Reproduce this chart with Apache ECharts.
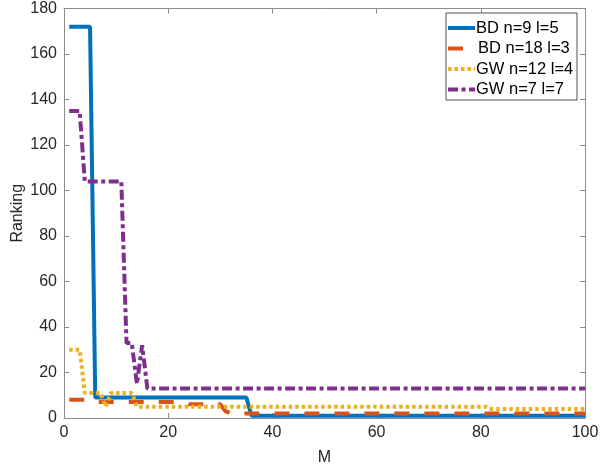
<!DOCTYPE html>
<html>
<head>
<meta charset="utf-8">
<script src="https://cdn.jsdelivr.net/npm/echarts@6/dist/echarts.min.js"></script>
<style>
html,body{margin:0;padding:0;background:#fff;}
#chart{width:609px;height:466px;}
</style>
</head>
<body>
<div id="chart"></div>
<script>
// Series names
const seriesNames = ['BD n=9 l=5', 'BD n=18 l=3', 'GW n=12 l=4', 'GW n=7 l=7'];
// Breakpoints (M, Ranking)
const bd9_M   = [1, 5, 6, 35, 36, 100];
const bd9_R   = [172, 172, 9, 9, 1, 1];
const bd18_M  = [1, 5, 6, 23, 24, 30, 31, 32, 100];
const bd18_R  = [8, 8, 7, 7, 6, 6, 3, 2, 2];
const gw12_M  = [1, 3, 4, 7, 8, 9, 13, 14, 81, 82, 100];
const gw12_R  = [30, 30, 11, 11, 5, 11, 11, 5, 5, 4, 4];
const gw7_M   = [1, 3, 4, 11, 12, 13, 14, 15, 16, 100];
const gw7_R   = [135, 135, 104, 104, 33, 33, 15, 32, 13, 13];
// Axis ticks
const xTicks = [0, 20, 40, 60, 80, 100];
const yTicks = [0, 20, 40, 60, 80, 100, 120, 140, 160, 180];

function pairs(xs, ys) { return xs.map((x, i) => [x, ys[i]]); }

const FONT = "'Liberation Sans', Arial, Helvetica, sans-serif";
const TXT = '#262626';
const AX = '#8c8c8c';

const colors = ['#0072BD', '#D95319', '#EDB120', '#7E2F8E'];
const dashes = [null, [15, 15], [3.5, 3], [10, 3.5, 4, 3.5]];

const chart = echarts.init(document.getElementById('chart'), null, {renderer: 'canvas'});

const baseAxis = {
  min: 0,
  axisLine: {show: true, onZero: false, lineStyle: {color: AX, width: 1}},
  axisTick: {show: true, inside: true, length: 5, lineStyle: {color: AX}},
  splitLine: {show: false},
  axisLabel: {color: TXT, fontSize: 16, fontFamily: FONT}
};

// Legend drawn as graphic (box + line samples + labels)
const legendBox = {x: 446, y: 13, w: 131, h: 87};
const legendRowsY = [28, 48.5, 69, 89.5];
const legendGraphic = [{
  type: 'rect', shape: {x: legendBox.x, y: legendBox.y, width: legendBox.w, height: legendBox.h},
  style: {fill: '#fff', stroke: '#262626', lineWidth: 0.8}, z: 100
}];
seriesNames.forEach((name, i) => {
  const y = legendRowsY[i];
  const x2 = i === 1 ? 463 : 475;
  legendGraphic.push({
    type: 'line', shape: {x1: 448, y1: y, x2: x2, y2: y},
    style: {stroke: colors[i], lineWidth: 4, lineDash: (i === 1 ? null : dashes[i])}, z: 101
  });
  legendGraphic.push({
    type: 'text', x: i === 1 ? 478 : 476, y: y,
    style: {text: name, fill: '#000', font: '16.5px ' + FONT, textVerticalAlign: 'middle', verticalAlign: 'middle'},
    z: 101
  });
});

chart.setOption({
  animation: false,
  backgroundColor: '#fff',
  grid: {left: 64, right: 24, top: 8.5, bottom: 48, containLabel: false, outerBoundsMode: 'none'},
  xAxis: [
    Object.assign({}, baseAxis, {
      type: 'value', max: xTicks[xTicks.length - 1], interval: 20, position: 'bottom',
      name: 'M', nameLocation: 'middle', nameGap: 32, nameMoveOverlap: false,
      nameTextStyle: {color: TXT, fontSize: 16, fontFamily: FONT},
      axisLabel: {color: TXT, fontSize: 16, fontFamily: FONT, margin: 7}
    }),
    Object.assign({}, baseAxis, {
      type: 'value', max: 100, interval: 20, position: 'top',
      axisLabel: {show: false}
    })
  ],
  yAxis: [
    Object.assign({}, baseAxis, {
      type: 'value', max: yTicks[yTicks.length - 1], interval: 20, position: 'left',
      name: 'Ranking', nameLocation: 'middle', nameGap: 38, nameMoveOverlap: false,
      nameTextStyle: {color: TXT, fontSize: 16, fontFamily: FONT},
      axisLabel: {color: TXT, fontSize: 16, fontFamily: FONT, margin: 7}
    }),
    Object.assign({}, baseAxis, {
      type: 'value', max: 180, interval: 20, position: 'right',
      axisLabel: {show: false}
    })
  ],
  graphic: legendGraphic,
  series: seriesNames.map((name, i) => ({
    name: name, type: 'line',
    data: [pairs(bd9_M, bd9_R), pairs(bd18_M, bd18_R), pairs(gw12_M, gw12_R), pairs(gw7_M, gw7_R)][i],
    showSymbol: false, symbol: 'none',
    lineStyle: {color: colors[i], width: 4, type: dashes[i] || 'solid'},
    itemStyle: {color: colors[i]}, z: 2 + i
  }))
});
</script>
</body>
</html>
